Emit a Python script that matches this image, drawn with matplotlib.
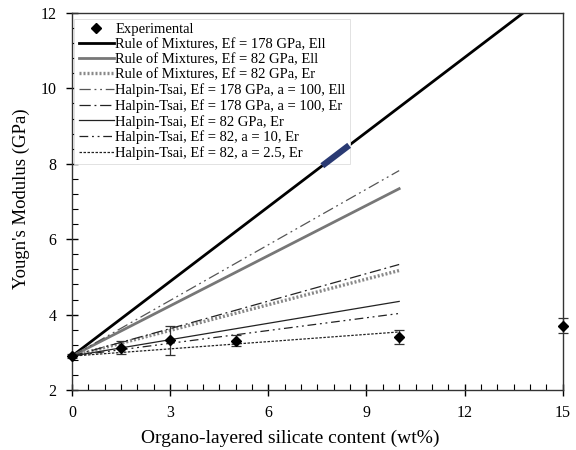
import matplotlib
matplotlib.use("Agg")
import matplotlib.pyplot as plt
from matplotlib.ticker import MultipleLocator
from matplotlib.lines import Line2D

plt.rcParams['font.family'] = ['Liberation Serif', 'DejaVu Serif']

# Experimental data
exp_x = [0, 1.5, 3, 5, 10, 15]
exp_y = [2.90, 3.12, 3.32, 3.31, 3.41, 3.71]
exp_err = [0.06, 0.17, 0.39, 0.15, 0.19, 0.20]

# Model lines (linear between start and end)
rom178_ell_x = [0, 15]
rom178_ell_y = [2.9, 12.8]
model_x = [0, 10]
rom82_ell_y = [2.9, 7.34]
rom82_er_y = [2.9, 5.17]
ht178_ell_y = [2.9, 7.82]
ht178_er_y = [2.9, 5.33]
ht82_er_y = [2.9, 4.35]
ht82_a10_y = [2.9, 4.03]
ht82_a25_y = [2.9, 3.54]
highlight_x = [7.65, 8.47]

labels = [
    "Experimental",
    "Rule of Mixtures, Ef = 178 GPa, Ell",
    "Rule of Mixtures, Ef = 82 GPa, Ell",
    "Rule of Mixtures, Ef = 82 GPa, Er",
    "Halpin-Tsai, Ef = 178 GPa, a = 100, Ell",
    "Halpin-Tsai, Ef = 178 GPa, a = 100, Er",
    "Halpin-Tsai, Ef = 82 GPa, Er",
    "Halpin-Tsai, Ef = 82, a = 10, Er",
    "Halpin-Tsai, Ef = 82, a = 2.5, Er",
]

fig = plt.figure(figsize=(5.76, 4.5), dpi=100)
ax = fig.add_axes([0.125, 0.1333, 0.852, 0.8378])

h = []
ax.errorbar(exp_x, exp_y, yerr=exp_err, fmt='D', color='black', markersize=5,
            ecolor='#333333', elinewidth=0.9, capsize=3.5, capthick=0.9, zorder=5,
            clip_on=False)
h.append(Line2D([], [], marker='D', color='black', markersize=5, linestyle='none'))
l, = ax.plot(rom178_ell_x, rom178_ell_y, color='black', lw=2.0)
h.append(l)
l, = ax.plot(model_x, rom82_ell_y, color='#777777', lw=2.0)
h.append(l)
l, = ax.plot(model_x, rom82_er_y, color='#888888', lw=2.4, linestyle=(0, (0.6, 0.6)))
h.append(l)
l, = ax.plot(model_x, ht178_ell_y, color='#555555', lw=0.9, linestyle=(0, (9, 3, 1.5, 3, 1.5, 3)))
h.append(l)
l, = ax.plot(model_x, ht178_er_y, color='#222222', lw=0.9, linestyle=(0, (9, 3, 1.5, 3)))
h.append(l)
l, = ax.plot(model_x, ht82_er_y, color='#222222', lw=0.9)
h.append(l)
l, = ax.plot(model_x, ht82_a10_y, color='#222222', lw=0.9, linestyle=(0, (7, 3, 1.5, 3, 1.5, 3)))
h.append(l)
l, = ax.plot(model_x, ht82_a25_y, color='#222222', lw=0.9, linestyle=(0, (2, 1.2)))
h.append(l)

slope = (rom178_ell_y[1] - rom178_ell_y[0]) / (rom178_ell_x[1] - rom178_ell_x[0])
hy = [rom178_ell_y[0] + slope * xx for xx in highlight_x]
ax.plot(highlight_x, hy, color='#2a3a73', lw=4.5, solid_capstyle='butt', zorder=10)

ax.set_xlim(0, 15)
ax.set_ylim(2, 12)
ax.xaxis.set_major_locator(MultipleLocator(3))
ax.xaxis.set_minor_locator(MultipleLocator(0.5))
ax.yaxis.set_major_locator(MultipleLocator(2))
ax.yaxis.set_minor_locator(MultipleLocator(0.4))
ax.tick_params(which='major', direction='inout', length=8, width=1, labelsize=11.5, pad=7)
ax.tick_params(which='minor', direction='in', length=4, width=0.8)
ax.tick_params(axis='x', which='both', top=False)
ax.tick_params(axis='y', which='both', right=False)
for s in ax.spines.values():
    s.set_linewidth(1.0)
    s.set_color('#333333')

ax.set_xlabel("Organo-layered silicate content (wt%)", fontsize=14)
ax.set_ylabel("Yougn's Modulus (GPa)", fontsize=13.5)
ax.xaxis.set_label_coords(0.444, -0.105)
ax.yaxis.set_label_coords(-0.085, 0.507)

leg = ax.legend(h, labels, loc='upper left', bbox_to_anchor=(0.005, 0.985), fontsize=10.5,
                frameon=True, fancybox=False, framealpha=1, edgecolor='#dddddd',
                handlelength=2.4, handletextpad=0.1, labelspacing=0.13, borderpad=0.3,
                borderaxespad=0)
leg.set_zorder(8)
leg.get_frame().set_linewidth(0.6)

fig.savefig("out.png", dpi=100)
